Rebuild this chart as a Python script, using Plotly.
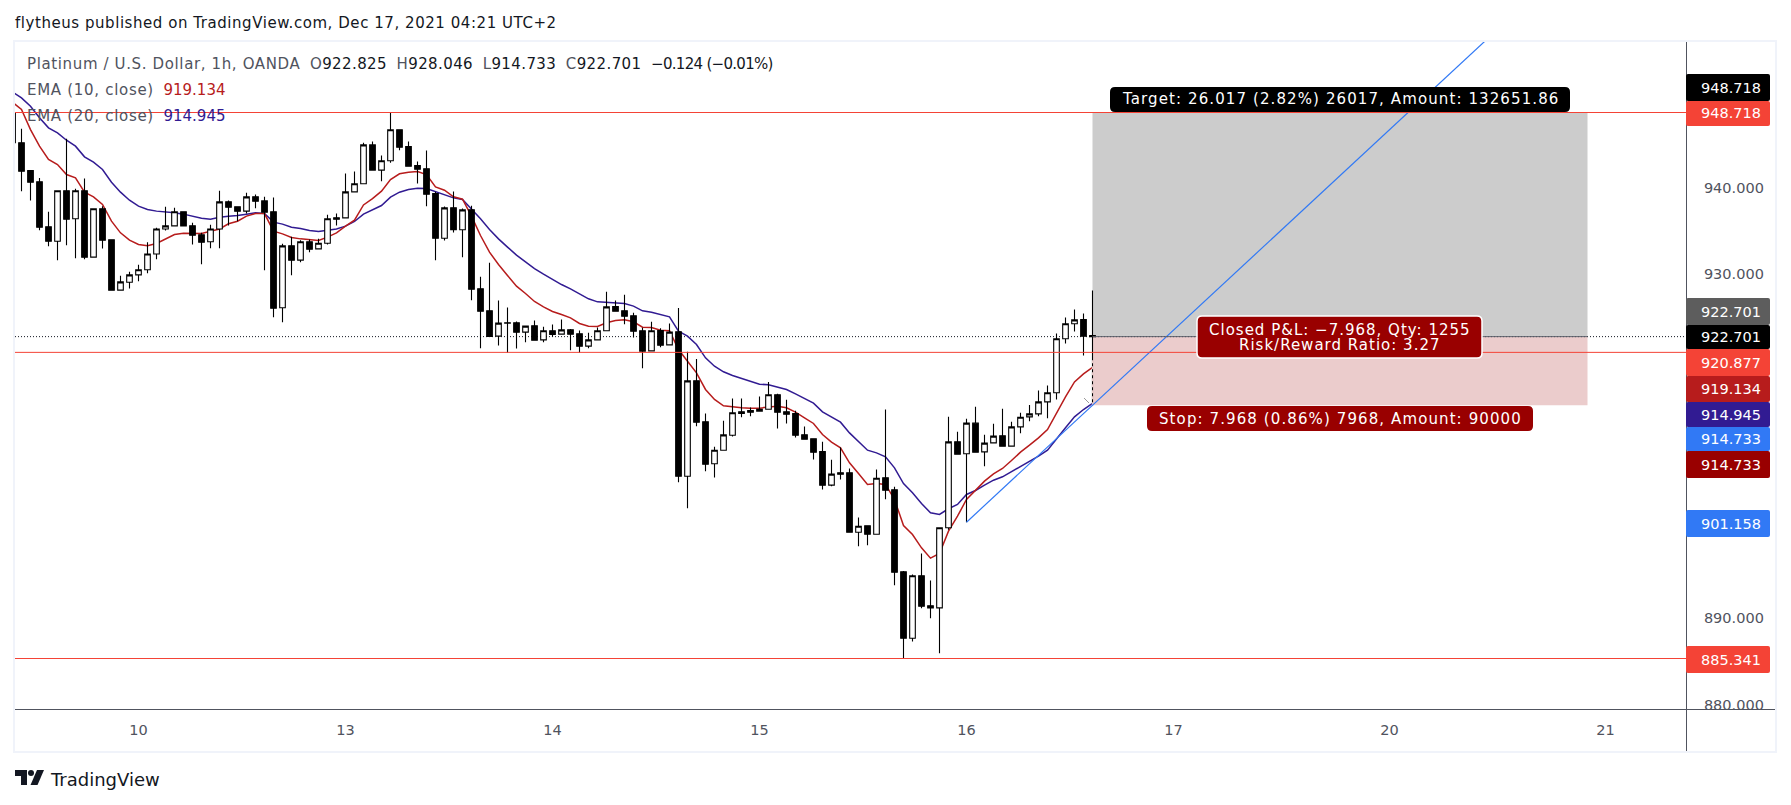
import plotly.graph_objects as go

# ---------- data ----------
hours = list(range(121))
opens = [948.68,945.2,941.99,940.67,935.45,933.78,939.63,936.38,939.63,931.93,
937.54,933.94,928.1,929.02,929.87,930.46,932.3,935.2,935.56,937.19,
935.56,934.52,933.71,935.2,938.35,937.77,937.27,938.93,938.46,937.19,
926.05,933.24,931.58,933.71,932.89,933.55,936.49,936.49,939.51,940.44,
944.96,942.03,943.11,946.71,944.77,942.57,942.18,939.32,934.13,937.65,
935.1,937.42,928.25,925.7,922.76,924.3,924.3,923.22,923.96,922.33,
923.38,922.99,923.49,923.03,921.6,922.33,923.38,926.2,925.7,925.12,
923.38,921.05,923.41,921.75,923.26,906.5,917.57,912.81,907.94,909.52,
911.26,913.97,914.13,914.05,914.28,915.95,913.97,913.78,911.3,910.84,
909.37,905.46,906.89,906.89,900.0,900.74,899.77,906.31,904.92,895.4,
887.7,894.94,891.45,891.22,900.51,910.49,909.1,912.66,909.33,910.37,
911.19,909.99,912.23,913.39,913.74,915.13,916.18,922.45,924.19,924.69,
922.825]
highs = [949.0,946.82,941.99,941.13,937.19,939.63,945.66,939.86,941.06,937.54,
937.85,934.0,929.76,930.22,931.04,933.67,935.33,937.77,937.65,937.19,
935.91,934.75,935.68,939.63,938.5,937.77,939.4,939.2,938.93,938.85,
933.47,934.29,933.9,933.98,934.05,936.84,937.0,941.64,941.87,945.2,
945.35,943.73,948.718,946.71,945.35,943.03,944.31,939.51,937.8,939.55,
937.58,937.88,929.64,931.27,926.9,926.08,924.46,923.92,924.57,923.84,
924.11,924.69,923.6,923.4,923.14,923.76,927.9,926.9,927.55,925.46,
923.72,924.42,923.68,924.23,926.04,920.94,920.12,913.78,909.91,912.93,
915.52,915.52,914.48,915.75,917.45,916.06,915.37,914.09,912.27,910.92,
910.49,908.4,909.83,907.4,901.71,900.74,907.28,914.24,905.27,895.5,
895.09,897.53,894.4,900.51,913.39,911.65,913.16,914.55,911.3,912.58,
914.32,912.81,913.86,914.78,916.45,917.03,923.06,924.92,925.85,925.4,
928.046]
lows = [945.0,939.59,938.5,935.06,933.2,931.58,933.32,931.81,931.69,931.85,
932.93,928.02,928.1,928.29,929.14,930.07,931.69,935.02,935.56,935.56,
933.4,931.11,932.97,932.97,935.6,936.1,937.0,937.6,930.42,924.96,
924.38,929.84,931.35,932.5,932.89,933.4,935.6,936.49,939.51,940.44,
942.03,940.75,942.88,944.35,942.49,940.48,937.85,931.58,933.86,934.8,
931.93,926.93,921.36,922.72,921.67,920.82,921.32,922.06,922.29,922.06,
922.68,922.99,921.13,920.82,921.36,922.33,923.38,925.66,924.15,922.6,
919.04,921.05,921.48,921.75,905.8,902.79,912.31,907.09,906.35,909.52,
911.11,913.35,913.47,914.05,914.28,912.04,912.62,911.0,910.8,908.44,
904.96,905.34,906.12,900.0,898.38,898.5,899.77,903.84,893.85,885.341,
887.31,891.18,890.02,885.96,900.3,909.06,901.158,909.29,907.67,910.37,
909.99,909.99,911.5,912.89,913.47,913.24,915.4,921.9,923.3,920.51,
914.733]
closes = [945.2,941.91,940.63,935.41,933.78,939.63,936.34,939.63,931.93,937.54,
933.9,928.1,929.06,929.87,930.46,932.3,935.2,935.56,937.19,935.56,
934.48,933.67,935.2,938.35,937.73,937.27,938.93,938.43,937.15,926.01,
933.24,931.58,933.71,932.85,933.55,936.38,936.34,939.51,940.44,944.96,
942.03,943.11,946.71,944.69,942.49,942.14,939.24,934.13,937.65,935.1,
937.42,928.21,925.66,922.72,924.27,924.27,923.22,923.92,922.29,923.38,
922.95,923.49,922.99,921.6,922.33,923.38,926.16,925.66,925.08,923.34,
921.0,923.38,921.71,923.22,906.5,917.57,912.77,907.9,909.52,911.3,
913.86,913.78,913.93,914.28,915.95,913.93,913.7,911.26,910.8,909.29,
905.46,906.74,906.74,900.0,900.7,899.77,906.27,904.88,895.36,887.7,
894.94,891.4,891.22,900.51,910.49,909.06,912.66,909.29,910.34,911.15,
909.99,912.23,913.35,913.74,915.13,916.18,922.45,924.19,924.65,922.76,
922.701]
ema10 = [949.92,949.07,946.74,944.81,943.26,942.68,941.52,941.13,939.47,938.93,
938.04,936.1,934.75,933.9,933.4,933.24,933.51,934.05,934.56,934.71,
934.67,934.67,934.94,935.2,935.8,936.1,936.69,936.99,936.99,934.94,
934.63,934.21,934.05,933.94,933.86,934.25,934.75,935.53,936.22,937.99,
938.72,939.59,940.94,941.6,941.79,941.87,941.52,940.09,939.7,938.93,
938.66,936.69,934.44,932.51,931.07,929.8,928.56,927.71,926.78,926.16,
925.62,925.27,924.88,924.23,923.92,923.88,924.31,924.58,924.65,924.42,
923.8,923.76,923.45,923.38,921.21,919.85,918.5,916.57,915.41,914.67,
914.52,914.44,914.4,914.4,914.52,914.63,914.44,913.93,913.28,912.62,
911.34,910.45,909.79,908.05,906.82,905.54,905.65,905.54,903.8,900.78,
899.73,898.19,896.99,897.53,900.12,901.86,903.8,904.84,905.93,906.78,
907.4,908.32,909.29,910.1,910.95,911.92,913.86,915.71,917.45,918.38,
919.134]
ema20 = [951.08,950.42,949.45,948.1,946.94,946.36,945.5,944.81,943.57,942.95,
942.1,940.63,939.47,938.54,937.85,937.46,937.27,937.19,937.07,936.92,
936.69,936.45,936.34,936.57,936.69,936.76,936.92,937.07,936.99,935.99,
935.76,935.41,935.25,935.02,934.9,935.02,935.2,935.53,936.07,936.92,
937.38,937.92,938.89,939.47,939.78,939.93,939.9,939.51,939.2,938.81,
938.62,937.54,936.38,935.14,934.05,933.09,932.16,931.38,930.61,929.95,
929.33,928.75,928.25,927.63,927.09,926.74,926.7,926.62,926.55,926.24,
925.7,925.54,925.27,925.0,923.34,922.76,921.79,920.24,919.27,918.62,
918.19,917.84,917.49,917.18,917.11,916.87,916.57,916.06,915.56,914.98,
913.97,913.35,912.77,911.53,910.53,909.52,909.21,908.75,907.47,905.65,
904.57,903.33,902.25,902.06,902.72,903.22,904.38,904.84,905.46,906.04,
906.43,907.01,907.67,908.25,908.83,909.52,910.76,912.12,913.39,914.24,
914.945]
trend_x = [106, 120, 170]
trend_y = [901.158, 914.733, 963.2]
level_prices = [948.718, 920.877, 885.341]
last_price = 922.701
target_price = 948.718
stop_price = 914.733
tool_end_x = 175
day_ticks = [14, 37, 60, 83, 106, 129, 153, 177]
day_labels = ["10", "13", "14", "15", "16", "17", "20", "21"]
price_ticks = [880, 890, 900, 930, 940]
price_labels = ["880.000", "890.000", "900.000", "930.000", "940.000"]

# ---------- layout geometry ----------
W, H = 1791, 805
L, R, T, B = 15, 1686, 41, 709
FONT = "DejaVu Sans"
px = lambda x: (x - L) / (R - L)
py = lambda y: 1 - (y - T) / (B - T)


def rrect(x0, y0, x1, y1, r):
    return (f"M{px(x0+r)},{py(y0)} L{px(x1-r)},{py(y0)} Q{px(x1)},{py(y0)} {px(x1)},{py(y0+r)} "
            f"L{px(x1)},{py(y1-r)} Q{px(x1)},{py(y1)} {px(x1-r)},{py(y1)} L{px(x0+r)},{py(y1)} "
            f"Q{px(x0)},{py(y1)} {px(x0)},{py(y1-r)} L{px(x0)},{py(y0+r)} Q{px(x0)},{py(y0)} {px(x0+r)},{py(y0)} Z")


shapes, annos = [], []


def box(x0, y0, x1, y1, fill, r=3, line=None, lw=0):
    shapes.append(dict(type="path", xref="paper", yref="paper", path=rrect(x0, y0, x1, y1, r),
                       fillcolor=fill, line=dict(color=line or fill, width=lw), layer="above"))


def label(x, y, text, color="#ffffff", size=15, xanchor="center", ls=0.0):
    if ls:
        text = f"<span style='letter-spacing:{ls}px'>{text}</span>"
    annos.append(dict(xref="paper", yref="paper", x=px(x), y=py(y), text=text, showarrow=False,
                      xanchor=xanchor, yanchor="middle", font=dict(family=FONT, size=size, color=color),
                      borderpad=0, borderwidth=0))


fig = go.Figure()

# position tool zones
shapes.append(dict(type="rect", xref="x", yref="y", x0=hours[-1], x1=tool_end_x, y0=last_price, y1=target_price,
                   fillcolor="#cccccc", line_width=0, layer="below"))
shapes.append(dict(type="rect", xref="x", yref="y", x0=hours[-1], x1=tool_end_x, y0=stop_price, y1=last_price,
                   fillcolor="#ebcccc", line_width=0, layer="below"))

xr = [0.2778, 185.944]
yr = [879.479, 957.018]

# EMAs, last-price dotted line (main axes)
fig.add_trace(go.Scatter(x=xr, y=[last_price, last_price], mode="lines",
                         line=dict(color="#131722", width=1, dash="1px,2px"), hoverinfo="skip"))
fig.add_trace(go.Scatter(x=hours, y=ema20, mode="lines", line=dict(color="#311b92", width=1.5), hoverinfo="skip"))
fig.add_trace(go.Scatter(x=hours, y=ema10, mode="lines", line=dict(color="#b71c1c", width=1.5), hoverinfo="skip"))

# candles on an overlay so they cover the EMAs
fig.add_trace(go.Candlestick(x=hours, open=opens, high=highs, low=lows, close=closes, xaxis="x2", yaxis="y2",
                             whiskerwidth=0,
                             increasing=dict(line=dict(color="#000000", width=1.1), fillcolor="#ffffff"),
                             decreasing=dict(line=dict(color="#000000", width=1.1), fillcolor="#000000"),
                             hoverinfo="skip"))
# dashed look of the last wick + trend line on top
fig.add_trace(go.Scatter(x=[hours[-1], hours[-1]], y=[stop_price, 920.0], mode="lines", xaxis="x2", yaxis="y2",
                         line=dict(color="#ebcccc", width=1.4, dash="3px,3px"), hoverinfo="skip"))
fig.add_trace(go.Scatter(x=trend_x, y=trend_y, mode="lines", xaxis="x2", yaxis="y2",
                         line=dict(color="#3179f5", width=1.2), hoverinfo="skip"))

# horizontal levels and tool mid line
for p in level_prices:
    shapes.append(dict(type="line", xref="paper", yref="y", x0=0, x1=1, y0=p, y1=p,
                       line=dict(color="#f44336", width=1), layer="above"))
shapes.append(dict(type="line", xref="x", yref="y", x0=hours[-1], x1=tool_end_x, y0=last_price, y1=last_price,
                   line=dict(color="#5d606b", width=1), layer="above"))
# small grey tick near the tool corner
shapes.append(dict(type="line", xref="paper", yref="paper", x0=px(1084), x1=px(1089), y0=py(398), y1=py(403),
                   line=dict(color="#9a9a9a", width=1), layer="above"))

# cover for clipped tick label, axes, frame
shapes.append(dict(type="rect", xref="paper", yref="paper", x0=px(R + 1), x1=px(1775), y0=py(B), y1=py(720),
                   fillcolor="#ffffff", line_width=0, layer="above"))
shapes.append(dict(type="line", xref="paper", yref="paper", x0=px(L), x1=px(1775), y0=py(B + .5), y1=py(B + .5),
                   line=dict(color="#50535e", width=1), layer="above"))
shapes.append(dict(type="line", xref="paper", yref="paper", x0=px(R + .5), x1=px(R + .5), y0=py(T), y1=py(752),
                   line=dict(color="#50535e", width=1), layer="above"))
shapes.append(dict(type="rect", xref="paper", yref="paper", x0=px(14), x1=px(1776), y0=py(41), y1=py(752),
                   fillcolor="rgba(0,0,0,0)", line=dict(color="#f0f3fa", width=2), layer="above"))

# right-axis value tags
tags = [
    (74, 101, "#000000", "948.718"), (101, 126, "#f44336", "948.718"),
    (298, 325, "#5d5d5d", "922.701"), (325, 349, "#000000", "922.701"),
    (349, 376, "#f44336", "920.877"), (376, 402, "#b71c1c", "919.134"),
    (402, 427, "#311b92", "914.945"), (427, 451, "#3179f5", "914.733"),
    (451, 478, "#990000", "914.733"), (510, 537, "#3179f5", "901.158"),
    (646, 673, "#f44336", "885.341"),
]
for y0, y1, c, t in tags:
    box(R, y0, 1770, y1, c, r=2)
    label(1731, (y0 + y1) / 2, t, size=14.5)

# tool captions
box(1110, 87, 1570, 112, "#000000", r=5)
label(1340, 99.5, "Target: 26.017 (2.82%) 26017, Amount: 132651.86", ls=1.1)
box(1197, 316, 1482, 358, "#990000", r=5, line="#ffffff", lw=1.5)
label(1340, 329.5, "Closed P&L: −7.968, Qty: 1255", ls=1.0)
label(1340, 344.5, "Risk/Reward Ratio: 3.27", ls=1.0)
box(1147, 406, 1533, 431, "#990000", r=5)
label(1340, 418.5, "Stop: 7.968 (0.86%) 7968, Amount: 90000", ls=1.1)

# header / legend
GREY = "#50535e"
label(15, 23, "flytheus published on TradingView.com, Dec 17, 2021 04:21 UTC+2", color="#131722", xanchor="left", ls=0.55)
sp = "\u00a0\u00a0"
lsg = "letter-spacing:0.63px"
lsv = "letter-spacing:0.4px"
lse = "letter-spacing:-0.7px"
label(27, 64, (f"<span style='color:{GREY};{lsg}'>Platinum / U.S. Dollar, 1h, OANDA</span>{sp}"
               f"<span style='{lsv}'><span style='color:{GREY}'>O</span>922.825</span>{sp}"
               f"<span style='{lsv}'><span style='color:{GREY}'>H</span>928.046</span>{sp}"
               f"<span style='{lsv}'><span style='color:{GREY}'>L</span>914.733</span>{sp}"
               f"<span style='{lsv}'><span style='color:{GREY}'>C</span>922.701</span>{sp}"
               f"<span style='{lse}'>−0.124 (−0.01%)</span>"),
      color="#131722", xanchor="left")
label(27, 90, f"<span style='color:{GREY};letter-spacing:0.7px'>EMA (10, close)</span>{sp}919.134", color="#b71c1c", xanchor="left")
label(27, 116, f"<span style='color:{GREY};letter-spacing:0.7px'>EMA (20, close)</span>{sp}914.945", color="#311b92", xanchor="left")

# TradingView mark
for p_ in [[(15, 770), (27, 770), (27, 785), (21, 785), (21, 776), (15, 776)],
           [(37, 770), (44, 770), (37.5, 785), (30.5, 785)]]:
    path = "M" + " L".join(f"{px(a)},{py(b)}" for a, b in p_) + " Z"
    shapes.append(dict(type="path", xref="paper", yref="paper", path=path, fillcolor="#131722", line_width=0,
                       layer="above"))
shapes.append(dict(type="circle", xref="paper", yref="paper", x0=px(28), x1=px(34), y0=py(770), y1=py(776),
                   fillcolor="#131722", line_width=0, layer="above"))
label(50, 779, "TradingView", color="#131722", size=18, xanchor="left")

fig.update_layout(
    width=W, height=H, showlegend=False, paper_bgcolor="#ffffff", plot_bgcolor="#ffffff",
    margin=dict(l=L, r=W - R, t=T, b=H - B, pad=0), boxgap=0.2, boxgroupgap=0.22, dragmode=False,
    font=dict(family=FONT, size=14, color=GREY),
    xaxis=dict(range=xr, tickmode="array", tickvals=day_ticks, ticktext=day_labels, showgrid=False, zeroline=False,
               ticks="outside", ticklen=8, tickcolor="rgba(0,0,0,0)", showline=False, rangeslider=dict(visible=False),
               tickfont=dict(family=FONT, size=14.5, color=GREY)),
    yaxis=dict(range=yr, side="right", tickmode="array", tickvals=price_ticks, ticktext=price_labels, showgrid=False,
               zeroline=False, ticks="outside", ticklen=14, tickcolor="rgba(0,0,0,0)", showline=False,
               tickfont=dict(family=FONT, size=14.5, color=GREY)),
    xaxis2=dict(range=xr, overlaying="x", visible=False, rangeslider=dict(visible=False)),
    yaxis2=dict(range=yr, overlaying="y", visible=False),
    shapes=shapes, annotations=annos,
)
fig.write_html("out.html", config=dict(displayModeBar=False),
               post_script="document.body.style.margin='0';document.documentElement.style.overflow='hidden';")
